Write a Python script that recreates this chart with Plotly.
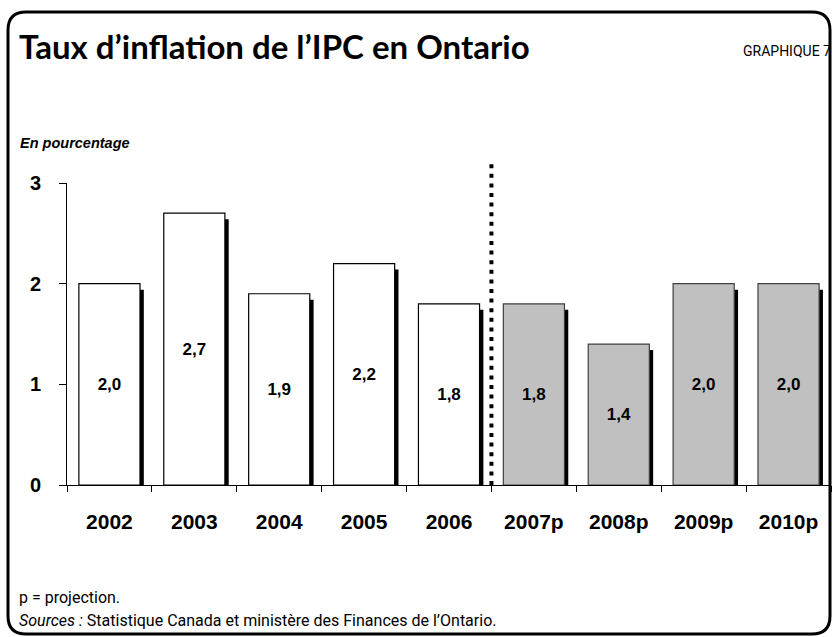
import plotly.graph_objects as go

# data
years = ["2002", "2003", "2004", "2005", "2006", "2007p", "2008p", "2009p", "2010p"]
inflation = [2.0, 2.7, 1.9, 2.2, 1.8, 1.8, 1.4, 2.0, 2.0]
is_projection = [False, False, False, False, False, True, True, True, True]
y_ticks = [0, 1, 2, 3]

W, H = 832, 637
L, R, T, B = 67, 831, 183, 485


# pixel -> paper helpers
def px(x):
    return (x - L) / (R - L)


def py(y):
    return (B - y) / (B - T)


fills = ["#c0c0c0" if p else "white" for p in is_projection]
edges = ["#404040" if p else "black" for p in is_projection]
labels = [f"{v:.1f}".replace(".", ",") for v in inflation]

fig = go.Figure()

# drop shadow behind each bar
fig.add_trace(go.Bar(
    x=years, y=[v - 0.03 for v in inflation], base=-0.03,
    width=0.72, offset=-0.36 + 0.045,
    marker=dict(color="black", line=dict(width=0)),
    hoverinfo="skip", showlegend=False, cliponaxis=False,
))

fig.add_trace(go.Bar(
    x=years, y=inflation, width=0.72, offset=-0.36,
    marker=dict(color=fills, line=dict(color=edges, width=1.2)),
    text=labels, textposition="inside", insidetextanchor="middle",
    textangle=0, constraintext="none",
    textfont=dict(family="Liberation Sans", size=17, color="black", weight="bold"),
    showlegend=False,
))

fig.update_layout(
    width=W, height=H,
    margin=dict(l=L, r=W - R, t=T, b=H - B),
    paper_bgcolor="white", plot_bgcolor="white",
    barmode="overlay",
    xaxis=dict(
        type="category", range=[-0.5, 8.5],
        showline=True, linecolor="black", linewidth=1,
        ticks="outside", tickson="boundaries", ticklen=6, tickcolor="black",
        tickfont=dict(family="Liberation Sans", size=21, color="black", weight="bold"),
        ticklabelstandoff=18, showgrid=False, zeroline=False, fixedrange=True,
    ),
    yaxis=dict(
        range=[0, 3], tickvals=y_ticks,
        showline=True, linecolor="black", linewidth=1,
        ticks="outside", ticklen=7, tickcolor="black",
        tickfont=dict(family="Liberation Sans", size=20, color="black", weight="bold"),
        ticklabelstandoff=14, showgrid=False, zeroline=False,
    ),
    font=dict(family="Liberation Sans", color="black"),
)

# dotted separator between actuals and projections
fig.add_shape(type="line", xref="x", yref="paper", x0=4.5, x1=4.5,
              y0=0, y1=py(159), line=dict(color="black", width=4, dash="4px,5.6px"))

# rounded frame
x0, x1, y0, y1, r = 8, 830, 12, 634, 18
frame = (f"M {px(x0)},{py(y0 + r)} Q {px(x0)},{py(y0)} {px(x0 + r)},{py(y0)} "
         f"L {px(x1 - r)},{py(y0)} Q {px(x1)},{py(y0)} {px(x1)},{py(y0 + r)} "
         f"L {px(x1)},{py(y1 - r)} Q {px(x1)},{py(y1)} {px(x1 - r)},{py(y1)} "
         f"L {px(x0 + r)},{py(y1)} Q {px(x0)},{py(y1)} {px(x0)},{py(y1 - r)} Z")
fig.add_shape(type="path", xref="paper", yref="paper", path=frame,
              line=dict(color="black", width=3))

fig.add_annotation(xref="paper", yref="paper", x=px(17), y=py(46),
                   xanchor="left", yanchor="middle", showarrow=False,
                   text="Taux d’inflation de l’IPC en Ontario",
                   font=dict(family="Lato", size=33, weight="bold", color="black"))
fig.add_annotation(xref="paper", yref="paper", x=px(833), y=py(51),
                   xanchor="right", yanchor="middle", showarrow=False,
                   text="GRAPHIQUE 7",
                   font=dict(family="Roboto", size=14, color="black"))
fig.add_annotation(xref="paper", yref="paper", x=px(18), y=py(143),
                   xanchor="left", yanchor="middle", showarrow=False,
                   text="<b><i>En pourcentage</i></b>",
                   font=dict(family="Liberation Sans", size=14.5, color="black"))
fig.add_annotation(xref="paper", yref="paper", x=px(17), y=py(597),
                   xanchor="left", yanchor="middle", showarrow=False,
                   text="p = projection.",
                   font=dict(family="Roboto", size=16, color="black"))
fig.add_annotation(xref="paper", yref="paper", x=px(17), y=py(620),
                   xanchor="left", yanchor="middle", showarrow=False,
                   text="<i>Sources :</i> Statistique Canada et ministère des Finances de l’Ontario.",
                   font=dict(family="Roboto", size=16, color="black"))

# drop the default page margin so the figure sits at the window's top-left
fig.write_html("out.html", config={"displayModeBar": False},
               post_script="document.body.style.margin='0';")
